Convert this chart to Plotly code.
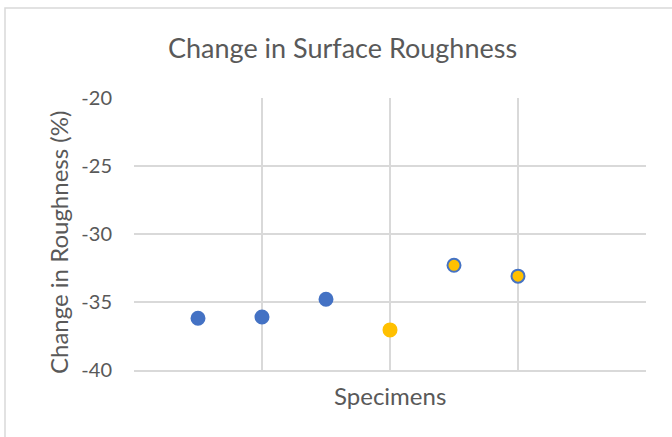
import plotly.graph_objects as go

specimens = [1, 2, 3, 4, 5, 6]
roughness_change = [-36.2, -36.1, -34.8, -37.05, -32.3, -33.1]
fill_colors = ["#4472C4", "#4472C4", "#4472C4", "#FFC000", "#FFC000", "#FFC000"]
line_colors = ["#4472C4", "#4472C4", "#4472C4", "#FFC000", "#4472C4", "#4472C4"]
y_ticks = [-40, -35, -30, -25, -20]

W, H = 672, 437
L, R, T, B = 134, 26, 98, 67
pw, ph = W - L - R, H - T - B

def px(x):
    return (x - L) / pw

def py(y):
    return (H - B - y) / ph

fig = go.Figure()
fig.add_trace(go.Scatter(
    x=specimens, y=roughness_change, mode="markers",
    marker=dict(size=13, color=fill_colors,
                line=dict(color=line_colors, width=2)),
    showlegend=False, cliponaxis=False,
))

grid = "#D9D9D9"
font_col = "#595959"
fam = "Lato, Open Sans, sans-serif"

fig.update_layout(
    width=W, height=H,
    margin=dict(l=L, r=R, t=T, b=B),
    paper_bgcolor="white", plot_bgcolor="white",
    font=dict(family=fam, color=font_col),
    xaxis=dict(range=[0, 8], tickvals=[0, 2, 4, 6, 8], showticklabels=False,
               showgrid=True, gridcolor=grid, gridwidth=1.5, zeroline=False,
               showline=True, linecolor=grid, linewidth=1.5, mirror=False),
    yaxis=dict(range=[-40, -20], tickvals=y_ticks, ticktext=[str(v) for v in y_ticks],
               showgrid=True, gridcolor=grid, gridwidth=1.5, zeroline=False,
               showline=False, ticks="", ticklabelstandoff=21,
               tickfont=dict(size=20, color=font_col)),
    shapes=[
        dict(type="rect", xref="paper", yref="paper",
             x0=px(5), x1=px(700), y0=py(460), y1=py(8),
             line=dict(color=grid, width=1.5), fillcolor="rgba(0,0,0,0)", layer="below"),
    ],
    annotations=[
        dict(text="Change in Surface Roughness", xref="paper", yref="paper",
             x=px(342), y=py(47), xanchor="center", yanchor="middle",
             showarrow=False, font=dict(size=27, color=font_col, family=fam)),
        dict(text="Specimens", xref="paper", yref="paper",
             x=px(390), y=py(395), xanchor="center", yanchor="middle",
             showarrow=False, font=dict(size=24, color=font_col, family=fam)),
        dict(text="Change in Roughness (%)", xref="paper", yref="paper",
             x=px(58), y=py(243), xanchor="center", yanchor="middle", textangle=-90,
             showarrow=False, font=dict(size=24, color=font_col, family=fam)),
    ],
)

fig.write_html("out.html", post_script="document.body.style.margin='0';",
               config={"displayModeBar": False})
